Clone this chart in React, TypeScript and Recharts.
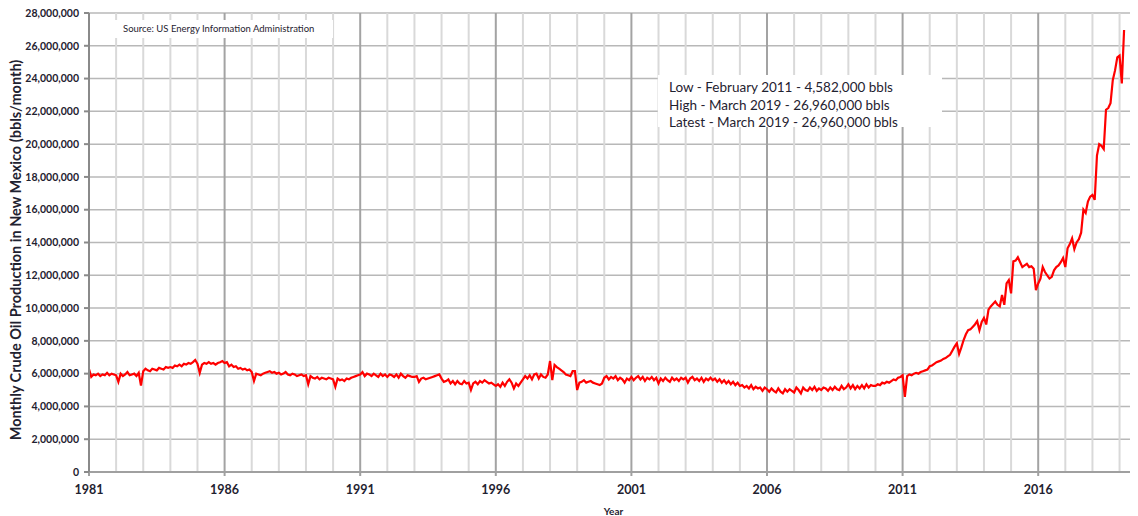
import { LineChart, Line, XAxis, YAxis, CartesianGrid, ReferenceLine } from "recharts";

// monthly production, thousand bbls, one row per year (Jan..Dec)
const MONTHLY_1980S = [
  [6280, 5800, 5950, 5900, 6000, 5850, 5950, 5900, 6050, 5900, 6000, 5950], // 1981
  [5900, 5500, 6000, 5850, 5950, 6100, 5900, 5950, 6000, 5850, 6050, 5270],
  [6150, 6300, 6200, 6150, 6300, 6250, 6200, 6350, 6300, 6250, 6400, 6350],
  [6400, 6350, 6500, 6450, 6550, 6450, 6600, 6550, 6650, 6600, 6700, 6830],
  [6600, 6050, 6550, 6650, 6600, 6700, 6600, 6650, 6550, 6650, 6700, 6770], // 1985
  [6650, 6700, 6450, 6550, 6400, 6450, 6300, 6350, 6250, 6300, 6200, 6250],
  [6100, 5550, 6000, 5950, 5900, 6000, 6050, 6100, 6150, 6050, 6100, 6000],
  [6050, 5950, 6000, 6100, 5950, 5900, 6000, 5950, 5850, 5900, 5950, 5850],
  [5900, 5350, 5850, 5750, 5700, 5800, 5650, 5750, 5700, 5650, 5750, 5700],
];

const MONTHLY_1990S = [
  [5650, 5200, 5700, 5600, 5650, 5550, 5700, 5650, 5750, 5800, 5850, 5900], // 1990
  [5950, 6100, 5850, 6000, 5950, 5850, 6000, 5900, 5800, 6000, 5850, 5950],
  [5800, 5950, 5900, 5800, 5950, 5750, 6000, 5850, 5750, 5900, 5850, 5800],
  [5800, 5850, 5500, 5700, 5750, 5650, 5700, 5750, 5800, 5850, 5900, 5950],
  [5700, 5500, 5550, 5650, 5400, 5550, 5350, 5550, 5400, 5350, 5550, 5400],
  [5450, 5000, 5400, 5500, 5350, 5550, 5450, 5600, 5500, 5400, 5450, 5350], // 1995
  [5250, 5350, 5200, 5450, 5250, 5500, 5650, 5450, 5100, 5400, 5250, 5450],
  [5650, 5850, 5700, 5900, 5650, 5950, 6000, 5700, 5950, 5800, 5750, 5950],
  [6770, 5600, 6530, 6400, 6300, 6200, 6100, 5950, 5900, 5850, 6150, 6150],
  [5000, 5450, 5500, 5600, 5450, 5500, 5550, 5450, 5400, 5350, 5300, 5400],
];

const MONTHLY_2000S = [
  [5750, 5850, 5650, 5800, 5700, 5850, 5600, 5750, 5650, 5450, 5700, 5600], // 2000
  [5800, 5600, 5750, 5850, 5650, 5800, 5550, 5750, 5650, 5800, 5600, 5750],
  [5400, 5700, 5550, 5750, 5600, 5500, 5750, 5600, 5700, 5550, 5750, 5650],
  [5750, 5450, 5700, 5800, 5600, 5700, 5550, 5750, 5500, 5700, 5600, 5750],
  [5600, 5700, 5500, 5650, 5450, 5600, 5400, 5550, 5350, 5500, 5300, 5450],
  [5250, 5300, 5150, 5250, 5100, 5300, 5050, 5200, 5100, 5150, 4950, 5150], // 2005
  [5050, 4900, 5100, 4950, 4850, 5100, 4900, 4800, 5050, 4900, 5050, 4950],
  [4850, 5150, 5000, 4800, 5150, 5000, 4950, 5150, 5000, 5200, 4950, 5100],
  [5000, 5150, 5100, 4950, 5150, 5000, 5200, 5050, 5000, 5250, 5050, 5150],
  [5350, 5100, 5300, 5050, 5250, 5100, 5300, 5100, 5350, 5150, 5300, 5250],
];

const MONTHLY_2010S = [
  [5250, 5350, 5300, 5450, 5400, 5500, 5450, 5550, 5650, 5600, 5750, 5800], // 2010
  [5900, 4582, 5850, 5950, 5900, 6000, 6050, 6000, 6100, 6150, 6200, 6250],
  [6450, 6500, 6600, 6700, 6750, 6800, 6900, 6950, 7050, 7150, 7400, 7650],
  [7850, 7200, 7600, 8050, 8400, 8650, 8700, 8850, 9000, 9200, 8650, 9150],
  [9400, 9000, 9900, 10100, 10250, 10400, 10200, 10100, 10800, 10200, 11500, 11700],
  [10900, 12850, 12900, 13100, 12800, 12500, 12600, 12700, 12500, 12550, 12400, 11100], // 2015
  [11500, 11800, 12500, 12200, 12000, 11800, 11900, 12300, 12500, 12600, 12800, 13050],
  [12500, 13650, 13900, 14250, 13600, 14000, 14200, 14600, 16000, 15800, 16500, 16800],
  [16900, 16600, 19300, 20000, 19900, 19700, 22100, 22200, 22500, 23900, 24500, 25300],
  [25400, 23700, 26960], // 2019 (through March)
];

const START_YEAR = 1981;
const MAJOR_YEARS = [1981, 1986, 1991, 1996, 2001, 2006, 2011, 2016];
const ALL_YEARS = Array.from({ length: 39 }, (_, i) => START_YEAR + i);
const Y_TICKS = [0, 2e6, 4e6, 6e6, 8e6, 10e6, 12e6, 14e6, 16e6, 18e6, 20e6, 22e6, 24e6, 26e6, 28e6];

const NOTES = [
  "Low - February 2011 - 4,582,000 bbls",
  "High - March 2019 - 26,960,000 bbls",
  "Latest - March 2019 - 26,960,000 bbls",
];
const SOURCE = "Source: US Energy Information Administration";
const Y_TITLE = "Monthly Crude Oil Production in New Mexico (bbls/month)";

const data = [...MONTHLY_1980S, ...MONTHLY_1990S, ...MONTHLY_2000S, ...MONTHLY_2010S]
  .flat()
  .map((v, i) => ({ t: START_YEAR + i / 12, bbls: v * 1000 }));

const FONT = "Lato, 'Open Sans', sans-serif";
const TEXT = "#1f2230";

const tickStyle = { fill: TEXT, fontFamily: FONT, fontWeight: 700 };

// rotated y title, centred where the original sits
const YTitle = () => (
  <text
    x={13}
    y={242}
    transform="rotate(-90 13 242)"
    textAnchor="middle"
    fill={TEXT}
    style={{ fontFamily: FONT, fontWeight: 700, fontSize: 14.5 }}
  >
    {Y_TITLE}
  </text>
);

export default function App() {
  return (
    <div style={{ position: "relative", width: 1130, height: 508 }}>
      <LineChart width={1130} height={508} data={data} margin={{ top: 5, right: 0, bottom: 0, left: 0 }}>
        <CartesianGrid vertical={false} stroke="#b8b8b8" strokeWidth={1.5} />
        {ALL_YEARS.map((y) => (
          <ReferenceLine
            key={y}
            x={y}
            stroke={MAJOR_YEARS.includes(y) ? "#a3a3a3" : "#d9d9d9"}
            strokeWidth={2}
          />
        ))}
        <XAxis
          dataKey="t"
          type="number"
          domain={[1981, 2019.68]}
          ticks={MAJOR_YEARS}
          allowDataOverflow
          height={44}
          stroke="#a0a0a0"
          strokeWidth={2}
          tickSize={4}
          tickMargin={9}
          tick={{ ...tickStyle, fontSize: 12.5 }}
          label={{
            value: "Year",
            position: "insideBottom",
            offset: 1,
            style: { fill: TEXT, fontFamily: FONT, fontWeight: 700, fontSize: 10 },
          }}
        />
        <YAxis
          domain={[0, 28e6]}
          ticks={Y_TICKS}
          width={81}
          stroke="#8a8a8a"
          strokeWidth={2}
          tickSize={5}
          tickMargin={5}
          tick={{ ...tickStyle, fontSize: 10.5 }}
          tickFormatter={(v) => Number(v).toLocaleString("en-US")}
          label={{ content: <YTitle /> }}
        />
        <Line
          type="linear"
          dataKey="bbls"
          stroke="#ff0000"
          strokeWidth={2.2}
          dot={false}
          isAnimationActive={false}
        />
      </LineChart>
      <div
        style={{
          position: "absolute",
          left: 105,
          top: 12,
          width: 220,
          height: 18,
          background: "#fff",
          fontFamily: FONT,
          fontSize: 9.5,
          color: TEXT,
          lineHeight: "18px",
          paddingLeft: 10,
          boxSizing: "border-box",
          whiteSpace: "nowrap",
        }}
      >
        {SOURCE}
      </div>
      <div
        style={{
          position: "absolute",
          left: 650,
          top: 67,
          width: 284,
          height: 52,
          background: "#fff",
          fontFamily: FONT,
          fontSize: 13.5,
          color: TEXT,
          lineHeight: "17.5px",
          paddingLeft: 11,
          paddingTop: 4,
          boxSizing: "border-box",
          whiteSpace: "nowrap",
        }}
      >
        {NOTES.map((n) => (
          <div key={n}>{n}</div>
        ))}
      </div>
    </div>
  );
}
